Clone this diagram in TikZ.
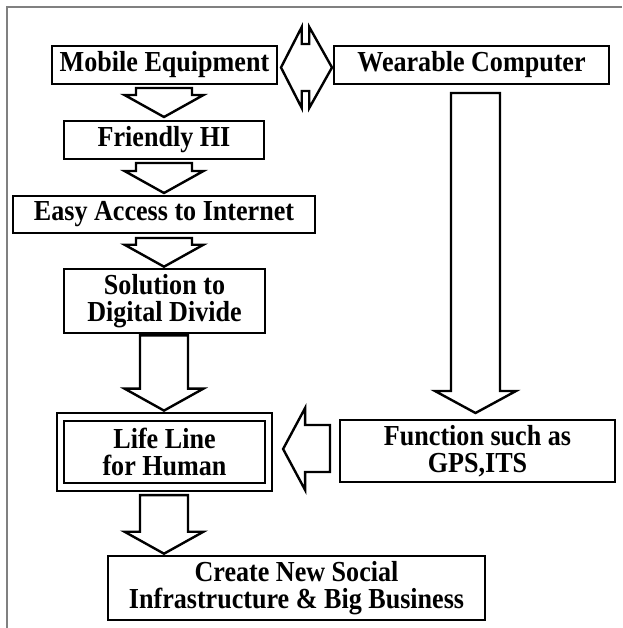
\documentclass[tikz,border=0pt]{standalone}
\usepackage{fontspec}
\setmainfont{Liberation Serif}
\newfontfamily\boxfont[FakeStretch=0.9]{Liberation Serif}
\usetikzlibrary{calc,fit}

% Hollow block arrow pointing down: x centre, source node, target node,
% shaft half width, head half width, gap at top, gap at tip
\newcommand\downblock[7]{%
  \path[blockarrow] let \p1=(#2.south), \p2=(#3.north) in
    ({#1pt-#4pt},{\y1-#6pt}) -- ({#1pt+#4pt},{\y1-#6pt})
    -- ({#1pt+#4pt},{\y2+#7pt+22pt}) -- ({#1pt+#5pt},{\y2+#7pt+22pt})
    -- ({#1pt},{\y2+#7pt})
    -- ({#1pt-#5pt},{\y2+#7pt+22pt}) -- ({#1pt-#4pt},{\y2+#7pt+22pt}) -- cycle;}

\begin{document}
\begin{tikzpicture}[x=1pt,y=-1pt,
  box/.style={draw, line width=2.6pt, inner sep=0pt, align=center,
    font=\boxfont\fontsize{29}{27.5}\selectfont\bfseries},
  blockarrow/.style={draw, line width=2.4pt, fill=white, line join=miter},
  frameline/.style={draw=black!50, line width=1.4pt}]
\useasboundingbox (0,0) rectangle (622,628);

% open frame along the top and left
\draw[frameline] (7,628) -- (7,7) -- (622,7);

% boxes
\node[box, minimum width=225pt, minimum height=38pt] (me)  at (164.5,65)  {Mobile Equipment};
\node[box, minimum width=275pt, minimum height=38pt] (wc)  at (471.5,65)  {Wearable Computer};
\node[box, minimum width=200pt, minimum height=38pt] (hi)  at (164,140)   {Friendly HI};
\node[box, minimum width=302pt, minimum height=37pt] (net) at (164,214.5) {Easy Access to Internet};
\node[box, minimum width=201pt, minimum height=64pt] (dd)  at (164.5,301) {Solution to\\Digital Divide};
\node[box, minimum width=201pt, minimum height=62pt] (ll)  at (164.5,452) {Life Line\\for Human};
\node[draw, line width=2.6pt, fit=(ll), inner xsep=5.8pt, inner ysep=6.8pt] (llout) {};
\node[box, minimum width=275pt, minimum height=62pt] (gps) at (477.5,451) {Function such as\\GPS,ITS};
\node[box, minimum width=377pt, minimum height=64pt] (biz) at (296.5,588) {Create New Social\\Infrastructure \& Big Business};

% left column flow
\downblock{164}{me}{hi}{28}{39.5}{2.7}{2.7}
\downblock{164}{hi}{net}{28}{39.5}{2.7}{1.7}
\downblock{164}{net}{dd}{28}{39.5}{3.7}{1}
\downblock{164}{dd}{llout}{24}{39.5}{1}{1}
\downblock{164}{llout}{biz}{24}{39.5}{2.7}{1}

% wearable computer down to its functions
\downblock{475.5}{wc}{gps}{24.5}{40.5}{7.7}{5.7}

% functions feed the life line
\path[blockarrow] let \p1=(gps.west), \p2=(llout.east) in
  ({\x1-8.7pt},{-425pt}) -- ({\x1-8.7pt},{-472pt})
  -- ({\x2+9.7pt+22pt},{-472pt}) -- ({\x2+9.7pt+22pt},{-490pt})
  -- ({\x2+9.7pt},{-449pt})
  -- ({\x2+9.7pt+22pt},{-408pt}) -- ({\x2+9.7pt+22pt},{-425pt}) -- cycle;

% two-way link between mobile equipment and wearable computer
\path[blockarrow] let \p1=(me.east), \p2=(wc.west), \n1={(\x1+\x2)/2} in
  ({\x1+2.7pt},{-67.5pt}) -- ({\n1-3.75pt},{-27pt}) -- ({\n1-3.75pt},{-44pt})
  -- ({\n1+3.75pt},{-44pt}) -- ({\n1+3.75pt},{-27pt}) -- ({\x2-0.7pt},{-67.5pt})
  -- ({\n1+3.75pt},{-108pt}) -- ({\n1+3.75pt},{-91pt}) -- ({\n1-3.75pt},{-91pt})
  -- ({\n1-3.75pt},{-108pt}) -- cycle;
\end{tikzpicture}
\end{document}
